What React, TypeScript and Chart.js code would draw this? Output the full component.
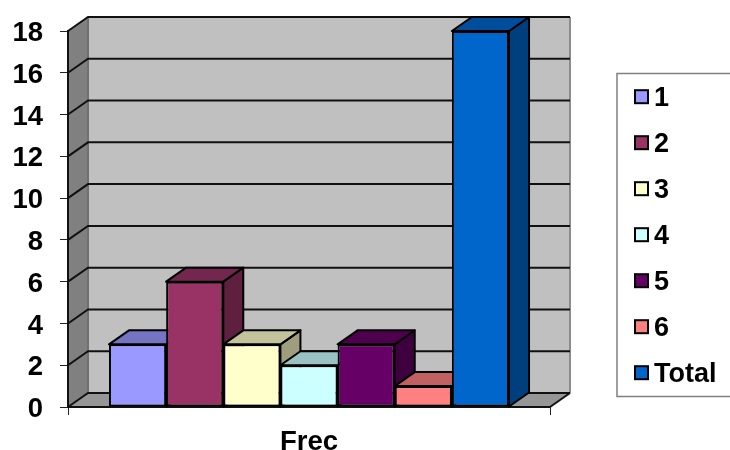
import React, { useEffect, useRef } from "react";
import { Chart, registerables } from "chart.js";

Chart.register(...registerables);

const categories = ["Frec"];
const seriesLabels = ["1", "2", "3", "4", "5", "6", "Total"];
const seriesValues = [3, 6, 3, 2, 3, 1, 18];
const seriesColors = ["#9999FF", "#993366", "#FFFFCC", "#CCFFFF", "#660066", "#FF8080", "#0066CC"];

const FONT = '"Liberation Sans", Arial, sans-serif';
const DX = 20;
const DY = -14;

function shade(hex: string, f: number) {
  const n = parseInt(hex.slice(1), 16);
  const r = Math.round(((n >> 16) & 255) * f);
  const g = Math.round(((n >> 8) & 255) * f);
  const b = Math.round((n & 255) * f);
  return `rgb(${r},${g},${b})`;
}

function poly(ctx: CanvasRenderingContext2D, pts: number[][], fill: string | null, stroke: string | null, lw = 2) {
  ctx.beginPath();
  pts.forEach(([x, y], i) => (i ? ctx.lineTo(x, y) : ctx.moveTo(x, y)));
  ctx.closePath();
  if (fill) {
    ctx.fillStyle = fill;
    ctx.fill();
  }
  if (stroke) {
    ctx.strokeStyle = stroke;
    ctx.lineWidth = lw;
    ctx.lineJoin = "round";
    ctx.stroke();
  }
}

const wallsPlugin = {
  id: "walls",
  beforeDraw(chart: any) {
    const { ctx, chartArea: a, scales } = chart;
    const { left: l, right: r, top: t, bottom: b } = a;
    ctx.save();
    // back wall
    poly(ctx, [[l + DX, t + DY], [r + DX, t + DY], [r + DX, b + DY], [l + DX, b + DY]], "#C0C0C0", null);
    // left wall
    poly(ctx, [[l, t], [l + DX, t + DY], [l + DX, b + DY], [l, b]], "#808080", null);
    // floor
    poly(ctx, [[l, b], [l + DX, b + DY], [r + DX, b + DY], [r, b]], "#969696", null);
    // wall edges
    ctx.strokeStyle = "#8c8c8c";
    ctx.lineWidth = 2;
    ctx.beginPath();
    ctx.moveTo(r + DX, t + DY);
    ctx.lineTo(r + DX, b + DY);
    ctx.stroke();
    ctx.strokeStyle = "#707070";
    ctx.beginPath();
    ctx.moveTo(l + DX, t + DY);
    ctx.lineTo(l + DX, b + DY);
    ctx.stroke();
    // grid lines following the walls
    ctx.strokeStyle = "#111";
    ctx.lineWidth = 2;
    for (const tick of scales.y.ticks) {
      const y = scales.y.getPixelForValue(tick.value);
      ctx.beginPath();
      ctx.moveTo(l, y);
      ctx.lineTo(l + DX, y + DY);
      ctx.lineTo(r + DX, y + DY);
      ctx.stroke();
    }
    // floor front-right edge
    ctx.beginPath();
    ctx.moveTo(r, b);
    ctx.lineTo(r + DX, b + DY);
    ctx.stroke();
    ctx.restore();
  },
};

const depthPlugin = {
  id: "depth",
  beforeDatasetsDraw(chart: any) {
    const { ctx } = chart;
    ctx.save();
    // Left to right: each bar's top covers the lower part of its left neighbour's side.
    for (let i = 0; i < chart.data.datasets.length; i++) {
      const bar = chart.getDatasetMeta(i).data[0];
      const color = chart.data.datasets[i].backgroundColor as string;
      const x0 = bar.x - bar.width / 2;
      const x1 = bar.x + bar.width / 2;
      const y0 = bar.y;
      const yb = bar.base;
      poly(ctx, [[x1, y0], [x1 + DX, y0 + DY], [x1 + DX, yb + DY], [x1, yb]], shade(color, 0.62), "#000");
      poly(ctx, [[x0, y0], [x0 + DX, y0 + DY], [x1 + DX, y0 + DY], [x1, y0]], shade(color, 0.76), "#000");
    }
    ctx.restore();
  },
};

const boxLegendPlugin = {
  id: "boxLegend",
  afterDraw(chart: any) {
    const { ctx } = chart;
    const top = 96.7;
    const step = 46;
    ctx.save();
    ctx.strokeStyle = "#808080";
    ctx.lineWidth = 1.5;
    ctx.beginPath();
    ctx.moveTo(731, 73.5);
    ctx.lineTo(617, 73.5);
    ctx.lineTo(617, 396.5);
    ctx.lineTo(731, 396.5);
    ctx.stroke();
    ctx.font = `bold 27px ${FONT}`;
    ctx.textBaseline = "middle";
    ctx.textAlign = "left";
    chart.data.datasets.forEach((ds: any, i: number) => {
      const y = top + i * step;
      ctx.fillStyle = ds.backgroundColor;
      ctx.strokeStyle = "#000";
      ctx.lineWidth = 2;
      ctx.fillRect(635, y - 6.5, 13, 13);
      ctx.strokeRect(635, y - 6.5, 13, 13);
      ctx.fillStyle = "#000";
      ctx.fillText(ds.label, 654, y + 2);
    });
    ctx.restore();
  },
};

export default function App() {
  const ref = useRef<HTMLCanvasElement>(null);
  useEffect(() => {
    const chart = new Chart(ref.current as HTMLCanvasElement, {
      type: "bar",
      data: {
        labels: categories,
        datasets: seriesLabels.map((label, i) => ({
          label,
          data: [seriesValues[i]],
          backgroundColor: seriesColors[i],
          borderColor: "#000",
          borderWidth: 2,
          borderSkipped: false,
          categoryPercentage: 0.83,
          barPercentage: 1,
        })),
      },
      options: {
        responsive: false,
        animation: false,
        devicePixelRatio: 1,
        layout: { padding: { top: 31, right: 180, left: 0, bottom: 0 } },
        plugins: { legend: { display: false }, tooltip: { enabled: false }, title: { display: false } },
        scales: {
          x: {
            offset: true,
            grid: { offset: true, drawOnChartArea: false, drawTicks: true, tickLength: 8, color: "#222", lineWidth: 1 },
            border: { color: "#111", width: 2 },
            ticks: { color: "#000", font: { family: FONT, size: 27.5, weight: "bold" }, padding: 11, maxRotation: 0 },
            afterFit(s: any) {
              s.height = 43;
              s.paddingLeft = 0;
              s.paddingRight = 0;
            },
          },
          y: {
            min: 0,
            max: 18,
            grid: { drawOnChartArea: false, drawTicks: true, tickLength: 8, color: "#222", lineWidth: 1 },
            border: { color: "#111", width: 2 },
            ticks: { stepSize: 2, color: "#000", font: { family: FONT, size: 27.5, weight: "bold" }, padding: 17, labelOffset: 2.5 },
            afterFit(s: any) {
              s.width = 68;
              s.paddingTop = 0;
              s.paddingBottom = 0;
            },
          },
        },
      },
      plugins: [wallsPlugin, depthPlugin, boxLegendPlugin],
    } as any);
    return () => chart.destroy();
  }, []);
  return (
    <div style={{ position: "fixed", left: 0, top: 0, width: 730, height: 450, background: "#fff" }}>
      <canvas ref={ref} width={730} height={450} style={{ display: "block" }} />
    </div>
  );
}
